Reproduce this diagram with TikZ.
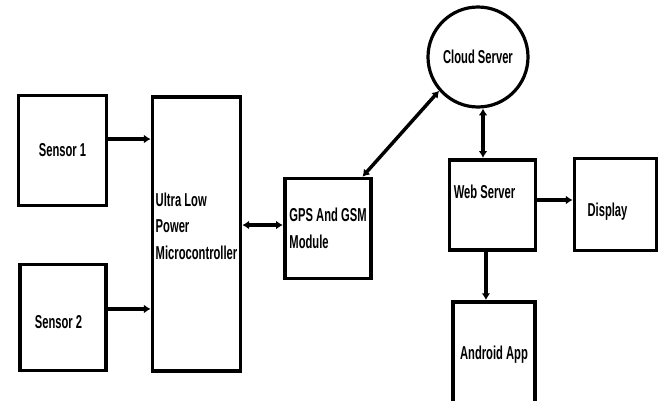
\documentclass[tikz,border=0pt]{standalone}
\usepackage{fontspec}
\setmainfont[FakeStretch=0.6]{Liberation Sans}
\usetikzlibrary{arrows.meta,positioning,calc}

\begin{document}
\begin{tikzpicture}[
    x=0.75pt, y=-0.75pt,
    font=\fontsize{14}{20}\selectfont\bfseries,
    block/.style={rectangle, draw, line width=2.8pt, align=left, inner sep=0pt},
    cloudnode/.style={circle, draw, line width=2.4pt, minimum size=75pt, inner sep=0pt},
    link/.style={line width=2.8pt, -{Latex[length=5pt,width=6.5pt]}},
    duplex/.style={line width=2.6pt, {Latex[length=5pt,width=6.5pt]}-{Latex[length=5pt,width=6.5pt]}},
]
\fill[white] (0,0) rectangle (664,400);
\useasboundingbox (0,0) rectangle (664,400);

% Sensors and controller
\node[block, minimum width=66pt, minimum height=82.5pt] (sensA) at (62.5,150.5) {Sensor 1};
\node[block, minimum width=65pt, minimum height=79.5pt,
      label={[xshift=-3.4pt, yshift=-3.4pt]center:Sensor 2}] (sensB) at (63,317.5) {};
\node[block, minimum width=66pt, minimum height=206pt,
      label={[align=left, yshift=6pt]center:Ultra Low\\Power\\Microcontroller}] (mcu) at (196.5,234) {};

% Communication
\node[block, minimum width=65pt, minimum height=75pt] (gsm) at (328,228.5) {GPS And GSM\\Module};
\node[cloudnode] (cloud) at (478,57) {Cloud Server};

% Server side
\node[block, minimum width=64.5pt, minimum height=68pt,
      label={[xshift=-6pt, yshift=10pt]center:Web Server}] (web) at (492.5,205) {};
\node[block, minimum width=61.5pt, minimum height=69pt,
      label={[xshift=-6pt, yshift=-5.6pt]center:Display}] (disp) at (615.5,204.5) {};
\node[block, minimum width=62pt, minimum height=79pt] (app) at (494,354.5) {Android App};

% Arrows
\draw[link] ([yshift=8.6pt]sensA.east) -- ([yshift=8.6pt]sensA.east -| mcu.west);
\draw[link] ([yshift=6.4pt]sensB.east) -- ([yshift=6.4pt]sensB.east -| mcu.west);
\draw[duplex] ([yshift=2.6pt]gsm.west -| mcu.east) -- ([yshift=2.6pt]gsm.west);
\draw[duplex] ([xshift=-8pt]gsm.north east) -- (cloud.221);
\draw[duplex] ([xshift=3.75pt]cloud.south) -- ([xshift=3.75pt]cloud.south |- web.north);
\draw[link] ([yshift=3.75pt]web.east) -- ([yshift=3.75pt]web.east -| disp.west);
\draw[link] ([xshift=-4.9pt]web.south) -- ([xshift=-4.9pt]web.south |- app.north);

\end{tikzpicture}
\end{document}
